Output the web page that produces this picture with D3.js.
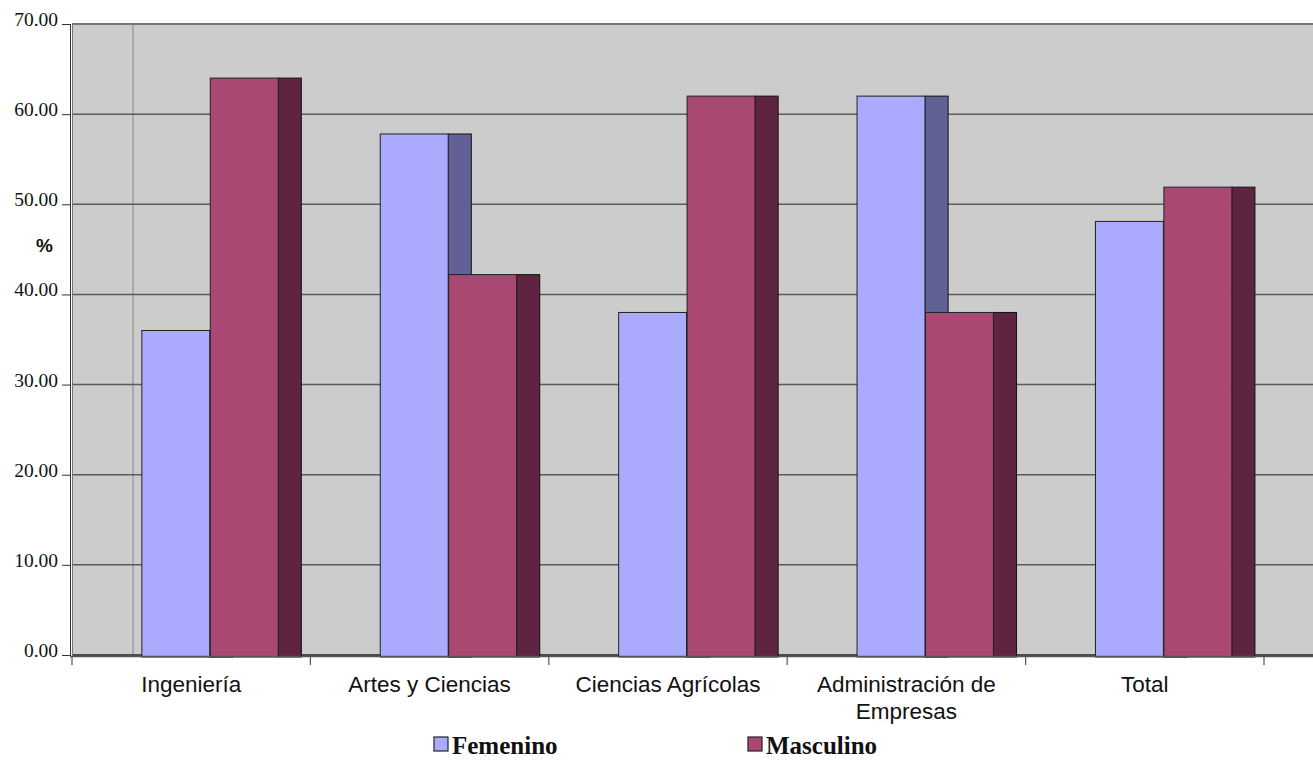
<!DOCTYPE html>
<html>
<head>
<meta charset="utf-8">
<script src="https://cdn.jsdelivr.net/npm/d3@7"></script>
<style>
html,body{margin:0;padding:0;background:#fff;}
svg{display:block;}
</style>
</head>
<body>
<svg id="chart" width="1313" height="783"></svg>
<script>
const categories = ["Ingeniería", "Artes y Ciencias", "Ciencias Agrícolas", "Administración de Empresas", "Total"];
const femenino = [36.0, 57.8, 38.0, 62.0, 48.1];
const masculino = [64.0, 42.2, 62.0, 38.0, 51.9];
const yTicks = [0, 10, 20, 30, 40, 50, 60, 70];
const seriesNames = ["Femenino", "Masculino"];

(function () {
const svg = d3.select("#chart");
const pL = 72, pR = 1264, pT = 24, pB = 655;

const x = d3.scaleBand().domain(categories).range([pL, pR]).padding(0);
const y = d3.scaleLinear().domain([0, 70]).range([pB, pT]);
const bw = x.bandwidth();

const colors = {
  F: {front: "#aaabff", side: "#616196"},
  M: {front: "#a94873", side: "#5f2442"}
};

// plot background
svg.append("rect").attr("x", pL).attr("y", pT).attr("width", 1313 - pL + 5).attr("height", pB - pT + 2)
  .attr("fill", "#cccccc");

// back wall vertical edge
svg.append("line").attr("x1", pL + bw * 0.256).attr("x2", pL + bw * 0.256)
  .attr("y1", pT).attr("y2", pB).attr("stroke", "#888").attr("stroke-width", 1);

// gridlines
svg.append("g").selectAll("line").data(yTicks).join("line")
  .attr("x1", pL).attr("x2", 1313).attr("y1", d => y(d)).attr("y2", d => y(d))
  .attr("stroke", d => d === 0 ? "#222" : (d === 70 ? "#777" : "#5a5a5a")).attr("stroke-width", d => d === 70 ? 2 : 1.5);

// bars
const g = svg.append("g");
const bar = (cx, val, col, offsetFrac) => {
  const bx = x(cx) + bw * offsetFrac;
  const w = bw * 0.285, depth = bw * 0.097;
  g.append("rect").attr("x", bx + w).attr("y", y(val)).attr("width", depth).attr("height", y(0) - y(val) + 2)
    .attr("fill", col.side).attr("stroke", "#111").attr("stroke-width", 1);
  g.append("rect").attr("x", bx).attr("y", y(val)).attr("width", w).attr("height", y(0) - y(val) + 2)
    .attr("fill", col.front).attr("stroke", "#222").attr("stroke-width", 1);
};
categories.forEach((c, i) => {
  bar(c, femenino[i], colors.F, 0.293);
  bar(c, masculino[i], colors.M, 0.58);
});

// left axis double line
svg.append("line").attr("x1", pL - 1.5).attr("x2", pL - 1.5).attr("y1", pT).attr("y2", pB + 2)
  .attr("stroke", "#333").attr("stroke-width", 1);
svg.append("line").attr("x1", pL + 0.5).attr("x2", pL + 0.5).attr("y1", pT).attr("y2", pB + 2)
  .attr("stroke", "#777").attr("stroke-width", 1);

// bottom axis line
svg.append("line").attr("x1", pL - 2).attr("x2", 1313).attr("y1", pB + 1.5).attr("y2", pB + 1.5)
  .attr("stroke", "#555").attr("stroke-width", 1.5);

// y axis ticks and labels
const yAxis = d3.axisLeft(y).tickValues(yTicks).tickSize(8).tickFormat(d3.format(".2f"));
const ya = svg.append("g").attr("transform", `translate(${pL - 2},0)`).call(yAxis);
ya.select(".domain").remove();
ya.selectAll(".tick line").attr("stroke", "#333");
ya.selectAll(".tick text").attr("font-family", "'Liberation Serif','DejaVu Serif',serif")
  .attr("font-size", 19.5).attr("fill", "#111").attr("x", -12).attr("dy", "0.08em");

// x axis ticks at category boundaries
const bounds = categories.map(c => x(c)).concat([x(categories[categories.length - 1]) + bw]);
svg.append("g").selectAll("line").data(bounds).join("line")
  .attr("x1", d => d).attr("x2", d => d).attr("y1", pB + 2).attr("y2", pB + 10)
  .attr("stroke", "#555").attr("stroke-width", 1.2);

// category labels
const lab = svg.append("g").attr("font-family", "'Liberation Sans',Arial,sans-serif").attr("font-size", 22.5)
  .attr("fill", "#111").attr("text-anchor", "middle");
categories.forEach(c => {
  const lines = c === "Administración de Empresas" ? ["Administración de", "Empresas"] : [c];
  const t = lab.append("text").attr("x", x(c) + bw / 2).attr("y", 692);
  lines.forEach((l, i) => t.append("tspan").attr("x", x(c) + bw / 2).attr("dy", i === 0 ? 0 : 27).text(l));
});

// y axis title
svg.append("text").attr("x", 44.5).attr("y", 252).attr("text-anchor", "middle")
  .attr("font-family", "'Liberation Sans',Arial,sans-serif").attr("font-weight", "bold").attr("font-size", 19)
  .attr("fill", "#111").text("%");

// legend
const legX = [434, 748];
const legColors = [colors.F.front, colors.M.front];
const lg = svg.append("g");
seriesNames.forEach((s, i) => {
  lg.append("rect").attr("x", legX[i]).attr("y", 737).attr("width", 14).attr("height", 14)
    .attr("fill", legColors[i]).attr("stroke", "#222").attr("stroke-width", 1.2);
  lg.append("text").attr("x", legX[i] + 18).attr("y", 754)
    .attr("font-family", "'Liberation Serif','DejaVu Serif',serif").attr("font-weight", "bold")
    .attr("font-size", 25).attr("fill", "#111").text(s);
});
})();
</script>
</body>
</html>
